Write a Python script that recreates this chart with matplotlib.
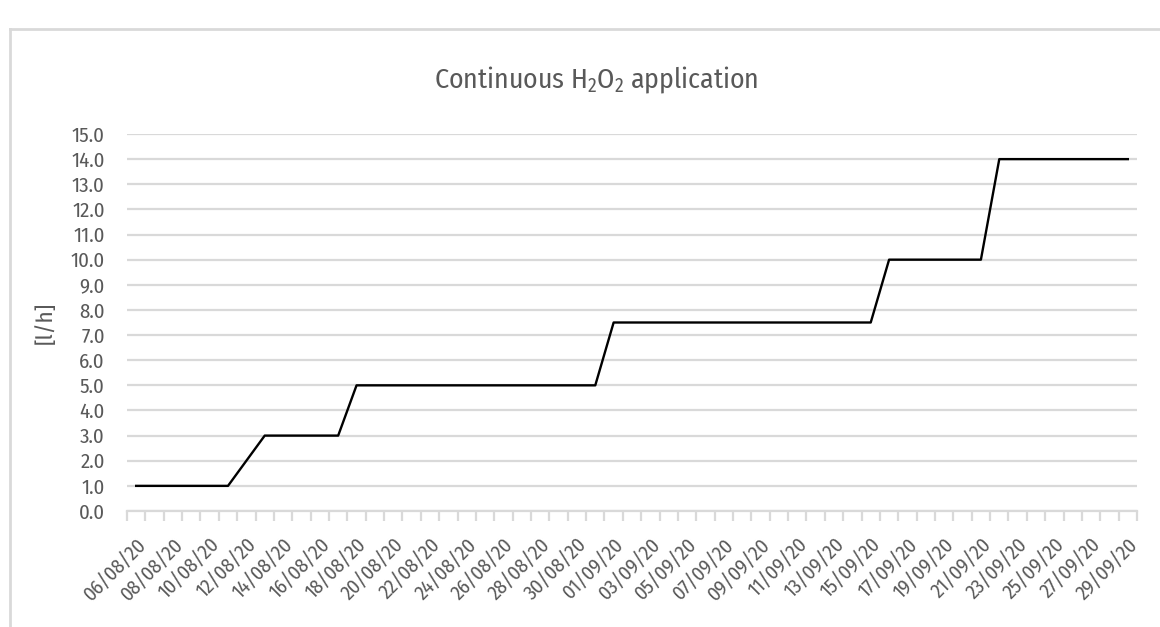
import matplotlib
matplotlib.use("Agg")
import matplotlib.pyplot as plt
import matplotlib.font_manager as fm
from matplotlib.lines import Line2D
from matplotlib.ticker import FixedLocator, MultipleLocator
import pandas as pd

# ---- data ----
dates = pd.date_range("2020-08-06", "2020-09-29", freq="D")
date_labels = [d.strftime("%d/%m/%y") for d in dates]
rate_lh = [1.0, 1.0, 1.0, 1.0, 1.0, 1.0,
           2.0,
           3.0, 3.0, 3.0, 3.0, 3.0,
           5.0, 5.0, 5.0, 5.0, 5.0, 5.0, 5.0, 5.0, 5.0, 5.0, 5.0, 5.0, 5.0, 5.0,
           7.5, 7.5, 7.5, 7.5, 7.5, 7.5, 7.5, 7.5, 7.5, 7.5, 7.5, 7.5, 7.5, 7.5, 7.5,
           10.0, 10.0, 10.0, 10.0, 10.0, 10.0,
           14.0, 14.0, 14.0, 14.0, 14.0, 14.0, 14.0, 14.0]
title = r"Continuous H$\mathregular{_2}$O$\mathregular{_2}$ application"
ylabel = "[l/h]"

names = {f.name for f in fm.fontManager.ttflist}
family = "Liberation Sans"
for cand in ["Fira Sans Condensed", "Cabin Condensed", "PT Sans Narrow", "Carlito"]:
    if cand in names:
        family = cand
        break
plt.rcParams["font.family"] = [family, "DejaVu Sans"]
plt.rcParams["mathtext.fontset"] = "custom"
plt.rcParams["mathtext.rm"] = family

txt = "#595959"
grid = "#d9d9d9"

fig = plt.figure(figsize=(11.6, 6.27), dpi=100)
ax = fig.add_axes([127/1160, 1-511/627, (1137-127)/1160, (511-134)/627])

x = list(range(len(date_labels)))
ax.plot(x, rate_lh, color="black", lw=1.7, zorder=3)

ax.set_xlim(-0.5, len(date_labels) - 0.5)
ax.set_ylim(0, 15)
ax.yaxis.set_major_locator(MultipleLocator(1))
ax.set_yticklabels([f"{v:.1f}" for v in ax.get_yticks()])
ax.grid(axis="y", color=grid, lw=1.6, zorder=0)
ax.tick_params(axis="y", length=0, labelsize=15, labelcolor=txt, pad=16)

ax.set_xticks(x[::2])
ax.set_xticklabels(date_labels[::2], rotation=45, ha="right",
                   rotation_mode="anchor", fontsize=14.5, color=txt)
ax.xaxis.set_minor_locator(FixedLocator([i - 0.5 for i in range(len(date_labels) + 1)]))
ax.tick_params(axis="x", which="major", length=0, pad=17)
ax.tick_params(axis="x", which="minor", length=7, width=1.6, color=grid)

for s in ["top", "right", "left"]:
    ax.spines[s].set_visible(False)
ax.spines["bottom"].set_color(grid)
ax.spines["bottom"].set_linewidth(1.6)

ax.set_ylabel(ylabel, fontsize=16.5, color=txt, labelpad=10)
fig.text(596/1160, 1-80/627, title, ha="center", va="center", fontsize=20, color=txt)

# chart frame (Excel style)
fig.add_artist(Line2D([10/1160, 1.0], [1-29/627, 1-29/627], color=grid, lw=2, transform=fig.transFigure))
fig.add_artist(Line2D([10/1160, 10/1160], [0, 1-29/627], color=grid, lw=2, transform=fig.transFigure))

fig.savefig("out.png", dpi=100, facecolor="white")
